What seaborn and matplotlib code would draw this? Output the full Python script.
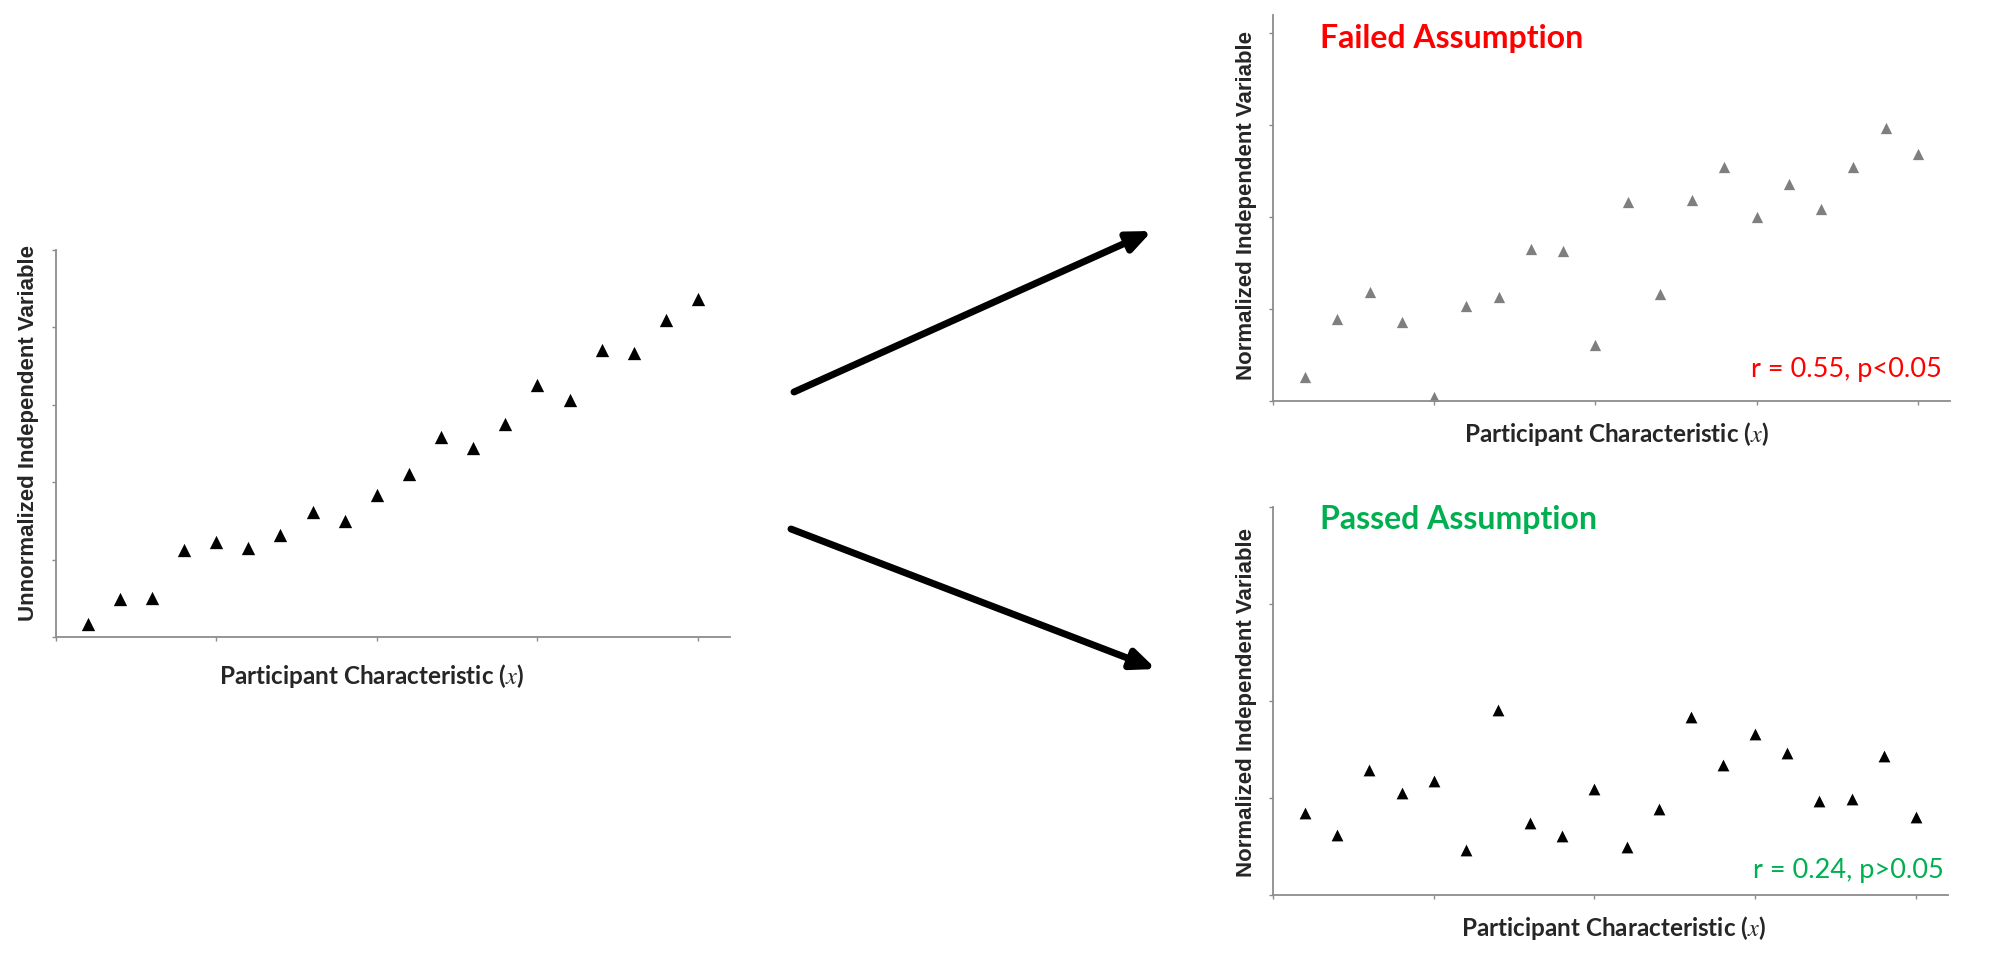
import matplotlib
matplotlib.use("Agg")
import matplotlib.pyplot as plt
import seaborn as sns
import pandas as pd

# values (arbitrary units)
participant = list(range(1, 21))
unnormalized = [0.17, 0.49, 0.50, 1.13, 1.23, 1.15, 1.32, 1.62, 1.50, 1.84,
                2.10, 2.59, 2.44, 2.75, 3.26, 3.06, 3.71, 3.67, 4.10, 4.37]
failed = [0.27, 0.89, 1.19, 0.86, 0.05, 1.04, 1.13, 1.65, 1.63, 0.61,
          2.16, 1.16, 2.18, 2.54, 2.00, 2.36, 2.09, 2.54, 2.97, 2.68]
passed = [0.85, 0.62, 1.29, 1.05, 1.18, 0.46, 1.91, 0.74, 0.61, 1.09,
          0.49, 0.89, 1.84, 1.34, 1.66, 1.46, 0.97, 0.99, 1.43, 0.80]
x_ticks = [0, 5, 10, 15, 20]

df = pd.DataFrame({"x": participant, "unnorm": unnormalized,
                   "failed": failed, "passed": passed})

sns.set_style("white")
plt.rcParams["font.family"] = ["Lato", "DejaVu Sans"]
plt.rcParams["mathtext.fontset"] = "stix"

RED = "#ff0000"
GREEN = "#00b050"
AXIS_GRAY = "#8c8c8c"
XLABEL = "Participant Characteristic ($x$)"


def style_axes(ax, ymax, yticks, ylabel, ylab_xy, xlab_xy):
    ax.set_xlim(0, 21)
    ax.set_ylim(0, ymax)
    ax.set_xticks(x_ticks)
    ax.set_yticks(yticks)
    ax.set_xticklabels([])
    ax.set_yticklabels([])
    sns.despine(ax=ax)
    for s in ["left", "bottom"]:
        ax.spines[s].set_color(AXIS_GRAY)
        ax.spines[s].set_linewidth(1.3)
    ax.tick_params(bottom=True, left=True, direction="out", length=3,
                   width=1, color=AXIS_GRAY)
    ax.set_ylabel(ylabel, family=["Liberation Sans", "DejaVu Sans"],
                  fontweight="bold", fontsize=16)
    ax.yaxis.set_label_coords(*ylab_xy)
    ax.set_xlabel(XLABEL, fontweight="bold", fontsize=17.5)
    ax.xaxis.label.set_verticalalignment("center")
    ax.xaxis.set_label_coords(*xlab_xy)


fig = plt.figure(figsize=(20, 9.6), dpi=100)

ax_l = fig.add_axes([0.0278, 0.3365, 0.3373, 0.4031])
sns.scatterplot(data=df, x="x", y="unnorm", marker="^", s=92, color="black",
                linewidth=0, ax=ax_l)
style_axes(ax_l, 5, [0, 1, 2, 3, 4, 5], "Unnormalized Independent Variable",
           (-0.024, 0.527), (0.468, -0.101))

ax_t = fig.add_axes([0.6365, 0.5818, 0.3385, 0.4026])
sns.scatterplot(data=df, x="x", y="failed", marker="^", s=66, color="#7f7f7f",
                linewidth=0, ax=ax_t)
style_axes(ax_t, 4.19, [0, 1, 2, 3, 4], "Normalized Independent Variable",
           (-0.023, 0.508), (0.508, -0.085))
ax_t.text(0.069, 0.94, "Failed Assumption", transform=ax_t.transAxes,
          color=RED, fontsize=23, fontweight="bold", va="center", ha="left")
ax_t.text(0.988, 0.0815, "r = 0.55, p<0.05", transform=ax_t.transAxes,
          color=RED, fontsize=19.5, va="center", ha="right")

ax_b = fig.add_axes([0.6365, 0.0677, 0.3375, 0.4042])
sns.scatterplot(data=df, x="x", y="passed", marker="^", s=72, color="black",
                linewidth=0, ax=ax_b)
style_axes(ax_b, 4, [0, 1, 2, 3, 4], "Normalized Independent Variable",
           (-0.023, 0.497), (0.505, -0.085))
ax_b.text(0.069, 0.969, "Passed Assumption", transform=ax_b.transAxes,
          color=GREEN, fontsize=23, fontweight="bold", va="center", ha="left")
ax_b.text(0.994, 0.064, "r = 0.24, p>0.05", transform=ax_b.transAxes,
          color=GREEN, fontsize=19.5, va="center", ha="right")

# the two arrows from the left panel to the right panels
arrow = dict(arrowstyle="-|>,head_length=0.7,head_width=0.3", lw=5,
             color="black", shrinkA=0, shrinkB=0, mutation_scale=20)
ax_l.annotate("", xy=(1152, 729), xytext=(794, 568), xycoords="figure pixels",
              textcoords="figure pixels", arrowprops=arrow, annotation_clip=False)
ax_l.annotate("", xy=(1156, 291), xytext=(791, 431), xycoords="figure pixels",
              textcoords="figure pixels", arrowprops=arrow, annotation_clip=False)

fig.savefig("out.png", dpi=100)
